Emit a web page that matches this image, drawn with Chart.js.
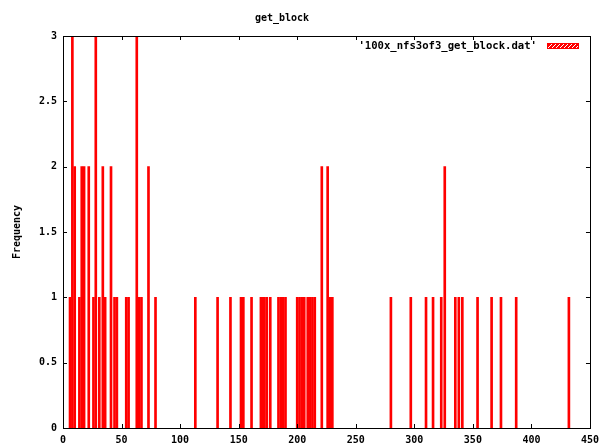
<!DOCTYPE html>
<html lang="en">
<head>
  <meta charset="UTF-8" />
  <title>get_block</title>
  <script src="https://cdn.jsdelivr.net/npm/chart.js"></script>
  <style>
    html, body { margin: 0; background: #fff; }
    .wrap { width: 605px; height: 448px; }
  </style>
</head>
<body>
  <div class="wrap"><canvas id="hist"></canvas></div>
  <script>
    // histogram bins
    const blockSizes = [6, 8, 10, 14, 16, 18, 22, 26, 28, 31, 34, 36, 41, 44, 46, 54, 56, 63, 65, 67, 73, 79,
      113, 132, 143, 152, 154, 161, 169, 171, 172, 174, 177, 184, 186, 188, 190,
      200, 202, 204, 206, 209, 211, 213, 215, 221, 226, 228, 230,
      280, 297, 310, 316, 323, 326, 335, 338, 341, 354, 366, 374, 387, 432];
    const frequency = [1, 3, 2, 1, 2, 2, 2, 1, 3, 1, 2, 1, 2, 1, 1, 1, 1, 3, 1, 1, 2, 1,
      1, 1, 1, 1, 1, 1, 1, 1, 1, 1, 1, 1, 1, 1, 1,
      1, 1, 1, 1, 1, 1, 1, 1, 2, 2, 1, 1,
      1, 1, 1, 1, 1, 2, 1, 1, 1, 1, 1, 1, 1, 1];
    const xTicks = [0, 50, 100, 150, 200, 250, 300, 350, 400, 450];
    const yTicks = [0, 0.5, 1, 1.5, 2, 2.5, 3];
    const seriesLabel = "'100x_nfs3of3_get_block.dat'";
    const chartTitle = 'get_block';

    const FONT = '"DejaVu Sans Mono", monospace';
    const canvas = document.getElementById('hist');
    const ctx = canvas.getContext('2d');

    // red box with white diagonal hatching, like gnuplot's key sample
    function makeHatch() {
      const c = document.createElement('canvas');
      c.width = 4; c.height = 4;
      const g = c.getContext('2d');
      g.fillStyle = '#ff0000';
      g.fillRect(0, 0, 4, 4);
      g.fillStyle = '#ffffff';
      for (let i = 0; i < 4; i++) g.fillRect(i, 3 - i, 1, 1);
      return ctx.createPattern(c, 'repeat');
    }
    const hatch = makeHatch();

    const framePlugin = {
      id: 'frame',
      afterDraw(chart) {
        const { ctx, chartArea: a, scales: { x, y } } = chart;
        ctx.save();
        ctx.strokeStyle = '#000';
        ctx.lineWidth = 1;
        ctx.strokeRect(Math.round(a.left) + 0.5, Math.round(a.top) + 0.5,
          Math.round(a.right - a.left), Math.round(a.bottom - a.top));
        ctx.beginPath();
        xTicks.forEach(v => {
          const px = Math.round(x.getPixelForValue(v)) + 0.5;
          ctx.moveTo(px, a.bottom); ctx.lineTo(px, a.bottom - 4);
          ctx.moveTo(px, a.top); ctx.lineTo(px, a.top + 4);
        });
        yTicks.forEach(v => {
          const py = Math.round(y.getPixelForValue(v)) + 0.5;
          ctx.moveTo(a.left, py); ctx.lineTo(a.left + 4, py);
          ctx.moveTo(a.right, py); ctx.lineTo(a.right - 4, py);
        });
        ctx.stroke();

        // title
        ctx.fillStyle = '#000';
        ctx.font = 'bold 10px ' + FONT;
        ctx.textAlign = 'center';
        ctx.textBaseline = 'middle';
        ctx.fillText(chartTitle, 282, 18);

        // key, top right inside the plot
        ctx.font = 'bold 10.6px ' + FONT;
        ctx.textAlign = 'right';
        ctx.fillText(chart.data.datasets[0].label, 537, 46);
        ctx.fillStyle = hatch;
        ctx.fillRect(547, 43, 32, 6);
        ctx.strokeStyle = '#ff0000';
        ctx.strokeRect(547.5, 43.5, 31, 5);
        ctx.restore();
      }
    };

    new Chart(ctx, {
      type: 'bar',
      data: {
        datasets: [{
          label: seriesLabel,
          data: blockSizes.map((b, i) => ({ x: b, y: frequency[i] })),
          backgroundColor: '#ff0000',
          borderWidth: 0,
          barThickness: 2
        }]
      },
      options: {
        responsive: true,
        maintainAspectRatio: false,
        animation: false,
        layout: { padding: { top: 36, right: 14, left: 0, bottom: 0 } },
        plugins: {
          legend: { display: false },
          title: { display: false },
          tooltip: { enabled: false }
        },
        scales: {
          x: {
            type: 'linear',
            min: 0,
            max: 450,
            offset: false,
            grid: { display: false, drawTicks: false },
            border: { display: false },
            afterBuildTicks: s => { s.ticks = xTicks.map(v => ({ value: v })); },
            afterFit: s => { s.height = 20; },
            ticks: {
              padding: 6,
              color: '#000',
              font: { family: FONT, size: 10, weight: 'bold' },
              maxRotation: 0,
              callback: v => String(v)
            }
          },
          y: {
            min: 0,
            max: 3,
            grid: { display: false, drawTicks: false },
            border: { display: false },
            afterBuildTicks: s => { s.ticks = yTicks.map(v => ({ value: v })); },
            afterFit: s => { s.width = 63; },
            ticks: {
              padding: 6,
              color: '#000',
              font: { family: FONT, size: 10, weight: 'bold' },
              callback: v => String(v)
            },
            title: {
              display: true,
              text: 'Frequency',
              color: '#000',
              font: { family: FONT, size: 10, weight: 'bold' },
              padding: { top: 11, bottom: 0 }
            }
          }
        }
      },
      plugins: [framePlugin]
    });
  </script>
</body>
</html>
